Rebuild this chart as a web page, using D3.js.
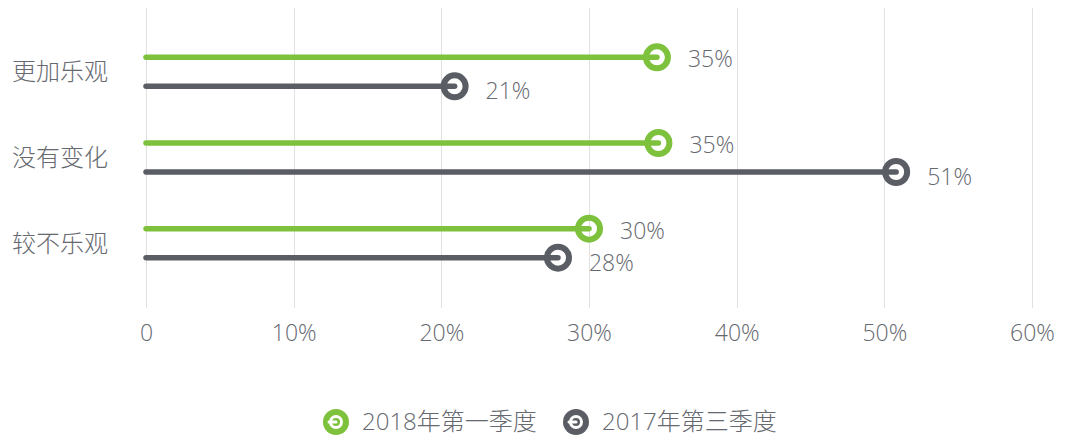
<!DOCTYPE html>
<html>
<head>
<meta charset="utf-8">
<script src="https://cdn.jsdelivr.net/npm/d3@7"></script>
<style>
  body { margin: 0; background: #fff; }
  text { font-family: "Open Sans", "Noto Sans CJK SC Light", "Noto Sans CJK SC", sans-serif; font-weight: 300; fill: #66696f; }
</style>
</head>
<body>
<div id="chart"></div>
<script>
// data
let categories = ["更加乐观", "没有变化", "较不乐观"];
let seriesNames = ["2018年第一季度", "2017年第三季度"];
let values2018 = [34.6, 34.7, 30.0];
let values2017 = [20.9, 50.8, 27.9];
let labels2018 = ["35%", "35%", "30%"];
let labels2017 = ["21%", "51%", "28%"];
let xTicks = [0, 10, 20, 30, 40, 50, 60];

let colors = ["#7dc13c", "#5a5d64"];

let svgWidth = 1073;
let svgHeight = 438;

let svg = d3.select("#chart")
    .append("svg")
    .attr("width", svgWidth)
    .attr("height", svgHeight);

let x = d3.scaleLinear()
    .domain([0, 60])
    .range([146, 1032]);

let y = d3.scaleBand()
    .domain(categories)
    .range([29, 286]);

// grid lines
svg.append("g")
    .selectAll("line")
    .data(xTicks)
    .enter()
    .append("line")
    .attr("x1", d => Math.round(x(d)) + 0.5)
    .attr("x2", d => Math.round(x(d)) + 0.5)
    .attr("y1", 8)
    .attr("y2", 308)
    .attr("stroke", "#e1e1e1")
    .attr("stroke-width", 1);

// x axis
let xAxis = d3.axisBottom(x)
    .tickValues(xTicks)
    .tickSize(0)
    .tickPadding(0)
    .tickFormat(d => d === 0 ? "0" : d + "%");

let gx = svg.append("g")
    .attr("transform", "translate(0, 333)")
    .call(xAxis);
gx.select(".domain").remove();
gx.selectAll("text")
    .attr("dy", "0.35em")
    .attr("fill", null)
    .style("font-size", "23px");

// category labels
svg.append("g")
    .selectAll("text")
    .data(categories)
    .enter()
    .append("text")
    .attr("x", 12)
    .attr("y", d => y(d) + y.bandwidth() / 2)
    .attr("dy", "0.35em")
    .style("font-size", "24px")
    .text(d => d);

let offsets = [-14.5, 14.5];
let allSeries = [
    { vals: values2018, labels: labels2018 },
    { vals: values2017, labels: labels2017 }
];

allSeries.forEach((s, si) => {
    let g = svg.append("g");
    let rows = categories.map((c, i) => ({
        cat: c,
        v: s.vals[i],
        label: s.labels[i],
        cy: y(c) + y.bandwidth() / 2 + offsets[si]
    }));

    g.selectAll("line")
        .data(rows)
        .enter()
        .append("line")
        .attr("x1", x(0))
        .attr("x2", d => x(d.v))
        .attr("y1", d => d.cy)
        .attr("y2", d => d.cy)
        .attr("stroke", colors[si])
        .attr("stroke-width", 5.5)
        .attr("stroke-linecap", "round");

    g.selectAll("circle")
        .data(rows)
        .enter()
        .append("circle")
        .attr("cx", d => x(d.v))
        .attr("cy", d => d.cy)
        .attr("r", 11)
        .attr("fill", "none")
        .attr("stroke", colors[si])
        .attr("stroke-width", 6);

    g.selectAll("text")
        .data(rows)
        .enter()
        .append("text")
        .attr("x", d => x(d.v) + 31)
        .attr("y", d => d.cy + (si === 0 ? 2 : 5))
        .attr("dy", "0.35em")
        .style("font-size", "23px")
        .text(d => d.label);
});

// legend
let legendX = [336, 576];
let legend = svg.append("g");
seriesNames.forEach((name, i) => {
    let cx = legendX[i];
    let cy = 422;
    legend.append("circle")
        .attr("cx", cx).attr("cy", cy).attr("r", 13)
        .attr("fill", colors[i]);
    legend.append("circle")
        .attr("cx", cx).attr("cy", cy).attr("r", 5.5)
        .attr("fill", "none")
        .attr("stroke", "#fff")
        .attr("stroke-width", 3);
    legend.append("line")
        .attr("x1", cx - 7).attr("x2", cx)
        .attr("y1", cy).attr("y2", cy)
        .attr("stroke", "#fff")
        .attr("stroke-width", 3)
        .attr("stroke-linecap", "round");
    legend.append("text")
        .attr("x", cx + 26)
        .attr("y", cy)
        .attr("dy", "0.35em")
        .style("font-size", "24px")
        .text(name);
});
</script>
</body>
</html>
